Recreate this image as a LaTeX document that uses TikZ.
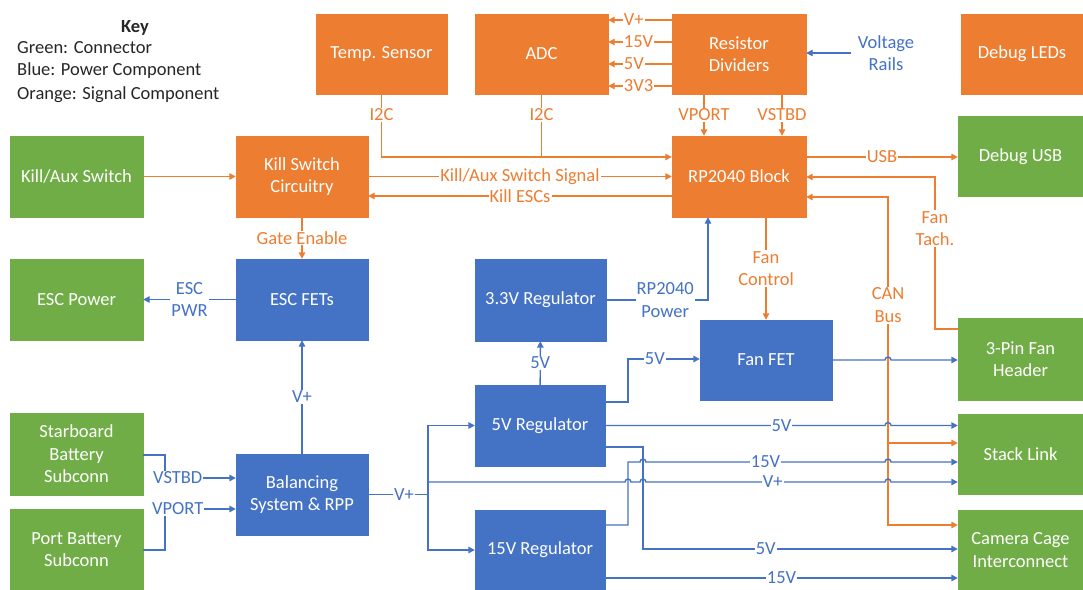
\documentclass[tikz,border=0pt]{standalone}
\usepackage{fontspec}
\setmainfont{Carlito}
\usetikzlibrary{arrows.meta}
\definecolor{cgreen}{HTML}{70AD47}
\definecolor{cblue}{HTML}{4472C4}
\definecolor{corange}{HTML}{ED7D31}
\newcommand\dgfont{\fontsize{18.5}{22.5}\selectfont}
\begin{document}
\begin{tikzpicture}[x=1pt,y=-1pt,>={Triangle[length=6.5pt,width=6.5pt]},
  box/.style={draw=#1, fill=#1, text=white, align=center, inner sep=2pt, font=\dgfont},
  ol/.style={draw=corange, line width=1.4pt},
  bl/.style={draw=cblue, line width=1.4pt},
  olbl/.style={fill=white, text=corange, inner sep=1pt, align=center, font=\dgfont},
  blbl/.style={fill=white, text=cblue, inner sep=1pt, align=center, font=\dgfont},
  keytxt/.style={text=black!85, inner sep=0pt, anchor=west, font=\dgfont}]
\useasboundingbox (0,0) rectangle (1083,589);

% key
\node[text=black!85, inner sep=0pt, font=\dgfont\bfseries] (key) at (135,28) {Key};
\node[keytxt] (k1) at (17,48) {Green: Connector};
\node[keytxt] (k2) at (17,71) {Blue: Power Component};
\node[keytxt] (k3) at (17,95) {Orange: Signal Component};

% boxes
\node[box=corange, minimum width=131pt, minimum height=80pt] (temp) at (381.5,54) {Temp. Sensor};
\node[box=corange, minimum width=133pt, minimum height=80pt] (adc) at (541.5,54) {ADC};
\node[box=corange, minimum width=134pt, minimum height=80pt] (rdiv) at (739,54) {Resistor\\Dividers};
\node[box=corange, minimum width=122pt, minimum height=80pt] (leds) at (1022,54) {Debug LEDs};
\node[box=corange, minimum width=134pt, minimum height=81pt] (rp) at (739,176.5) {RP2040 Block};
\node[box=cgreen, minimum width=125pt, minimum height=80pt] (usb) at (1020.5,156.5) {Debug USB};
\node[box=cgreen, minimum width=133pt, minimum height=81pt] (kas) at (76.5,176.5) {Kill/Aux Switch};
\node[box=corange, minimum width=132pt, minimum height=81pt] (ksc) at (302,176.5) {Kill Switch\\Circuitry};
\node[box=cgreen, minimum width=133pt, minimum height=81pt] (escp) at (76.5,299.5) {ESC Power};
\node[box=cblue, minimum width=132pt, minimum height=81pt] (escf) at (302,299.5) {ESC FETs};
\node[box=cblue, minimum width=131pt, minimum height=82pt] (reg33) at (540.5,300) {3.3V Regulator};
\node[box=cblue, minimum width=132pt, minimum height=80pt] (fanfet) at (766,360) {Fan FET};
\node[box=cgreen, minimum width=125pt, minimum height=82pt] (fanhdr) at (1020.5,359) {3-Pin Fan\\Header};
\node[box=cblue, minimum width=130pt, minimum height=81pt] (reg5) at (540,425.5) {5V Regulator};
\node[box=cblue, minimum width=130pt, minimum height=80pt] (reg15) at (540,550) {15V Regulator};
\node[box=cgreen, minimum width=125pt, minimum height=80pt] (stack) at (1020.5,454) {Stack Link};
\node[box=cgreen, minimum width=125pt, minimum height=80pt] (cam) at (1020.5,550) {Camera Cage\\Interconnect};
\node[box=cgreen, minimum width=133pt, minimum height=82pt] (stbd) at (76.5,454) {Starboard\\Battery\\Subconn};
\node[box=cgreen, minimum width=133pt, minimum height=81pt] (port) at (76.5,549.5) {Port Battery\\Subconn};
\node[box=cblue, minimum width=132pt, minimum height=81pt] (bal) at (302,494.5) {Balancing\\System \& RPP};
\node[text=cblue, inner sep=2pt, align=center, font=\dgfont] (vr) at (886,53) {Voltage\\Rails};

% orange connectors
\draw[ol,->] (kas) -- (ksc);
\draw[ol,->] (temp.south) -- node[olbl,pos=0.33]{I2C} (temp.south |- 0,157) -- (rp.west |- 0,157);
\draw[ol] (adc.south) -- node[olbl,pos=0.33]{I2C} (adc.south |- 0,157);
\draw[ol,->] (ksc) -- node[olbl]{Kill/Aux Switch Signal} (rp);
\draw[ol,->] (rp.west |- 0,196) -- node[olbl]{Kill ESCs} (ksc.east |- 0,196);
\draw[ol,->] (rdiv.south -| 704,0) -- node[olbl]{VPORT} (rp.north -| 704,0);
\draw[ol,->] (rdiv.south -| 782,0) -- node[olbl]{VSTBD} (rp.north -| 782,0);
\foreach \yy/\lab in {20/V+,42/15V,64/5V,86/3V3}
  \draw[ol,->] (rdiv.west |- 0,\yy) -- node[olbl,anchor=west,pos=0.78]{\lab} (adc.east |- 0,\yy);
\draw[ol,->] (rp.east |- 0,157) -- node[olbl]{USB} (usb.west |- 0,157);
\draw[ol,->] (fanhdr.west |- 0,329) -- (935,329) -- node[olbl,pos=0.66]{Fan\\Tach.} (935,177) -- (rp.east |- 0,177);
\draw[ol,<->] (rp.east |- 0,197) -- (888,197) -- node[olbl,pos=0.33]{CAN\\Bus} (888,525) -- (cam.west |- 0,525);
\draw[ol,->] (888,443) -- (stack.west |- 0,443);
\draw[ol,->] (ksc) -- node[olbl]{Gate Enable} (escf);
\draw[ol,->] (rp.south -| fanfet.north) -- node[olbl]{Fan\\Control} (fanfet.north);

% blue connectors
\draw[bl,->] ([xshift=-5pt]vr.west) -- (rdiv.east |- vr.west);
\draw[bl,->] (reg33.east) -- node[blbl,pos=0.58]{RP2040\\Power} (708,300) -- (rp.south -| 708,0);
\draw[bl,->] (escf) -- node[blbl]{ESC\\PWR} (escp);
\draw[bl,->] (bal) -- node[blbl]{V+} (escf);
\draw[bl,->] (stbd.east |- 0,455) -- (165,455) -- (165,478) -- node[blbl,pos=0.18]{VSTBD} (bal.west |- 0,478);
\draw[bl,->] (port.east |- 0,550) -- (165,550) -- (165,509) -- node[blbl,pos=0.18]{VPORT} (bal.west |- 0,509);
\draw[bl,->] (bal.east) -- node[blbl,pos=0.6]{V+} (428,494.5) |- (reg5.west);
\draw[bl,->] (428,494.5) |- (reg15.west);
\draw[bl,->] (reg5) -- node[blbl]{5V} (reg33);
\draw[bl,->] (reg5.east |- 0,402) -- (628,402) -- (628,359) -- node[blbl,pos=0.375]{5V} (fanfet.west |- 0,359);
\draw[bl,->] (fanfet.east) -- (885,360) arc[start angle=180,end angle=0,radius=3pt] -- (fanhdr.west |- fanfet.east);
\draw[bl,->] (reg5.east) -- node[blbl,pos=0.63]{5V} (885,425.5) arc[start angle=180,end angle=0,radius=3pt] -- (stack.west |- reg5.east);
\draw[bl,->] (reg15.east |- 0,525) -- (628,525) -- (628,462) -- (640,462) arc[start angle=180,end angle=0,radius=3pt] -- node[blbl,pos=0.5]{15V} (885,462) arc[start angle=180,end angle=0,radius=3pt] -- (stack.west |- 0,462);
\draw[bl,->] (428,482) -- (625,482) arc[start angle=180,end angle=0,radius=3pt] -- (640,482) arc[start angle=180,end angle=0,radius=3pt] -- node[blbl,pos=0.53]{V+} (885,482) arc[start angle=180,end angle=0,radius=3pt] -- (stack.west |- 0,482);
\draw[bl,->] (reg5.east |- 0,447) -- (643,447) -- (643,549) -- node[blbl,pos=0.39]{5V} (cam.west |- 0,549);
\draw[bl,->] (reg15.east |- 0,578) -- node[blbl]{15V} (cam.west |- 0,578);
\end{tikzpicture}
\end{document}
